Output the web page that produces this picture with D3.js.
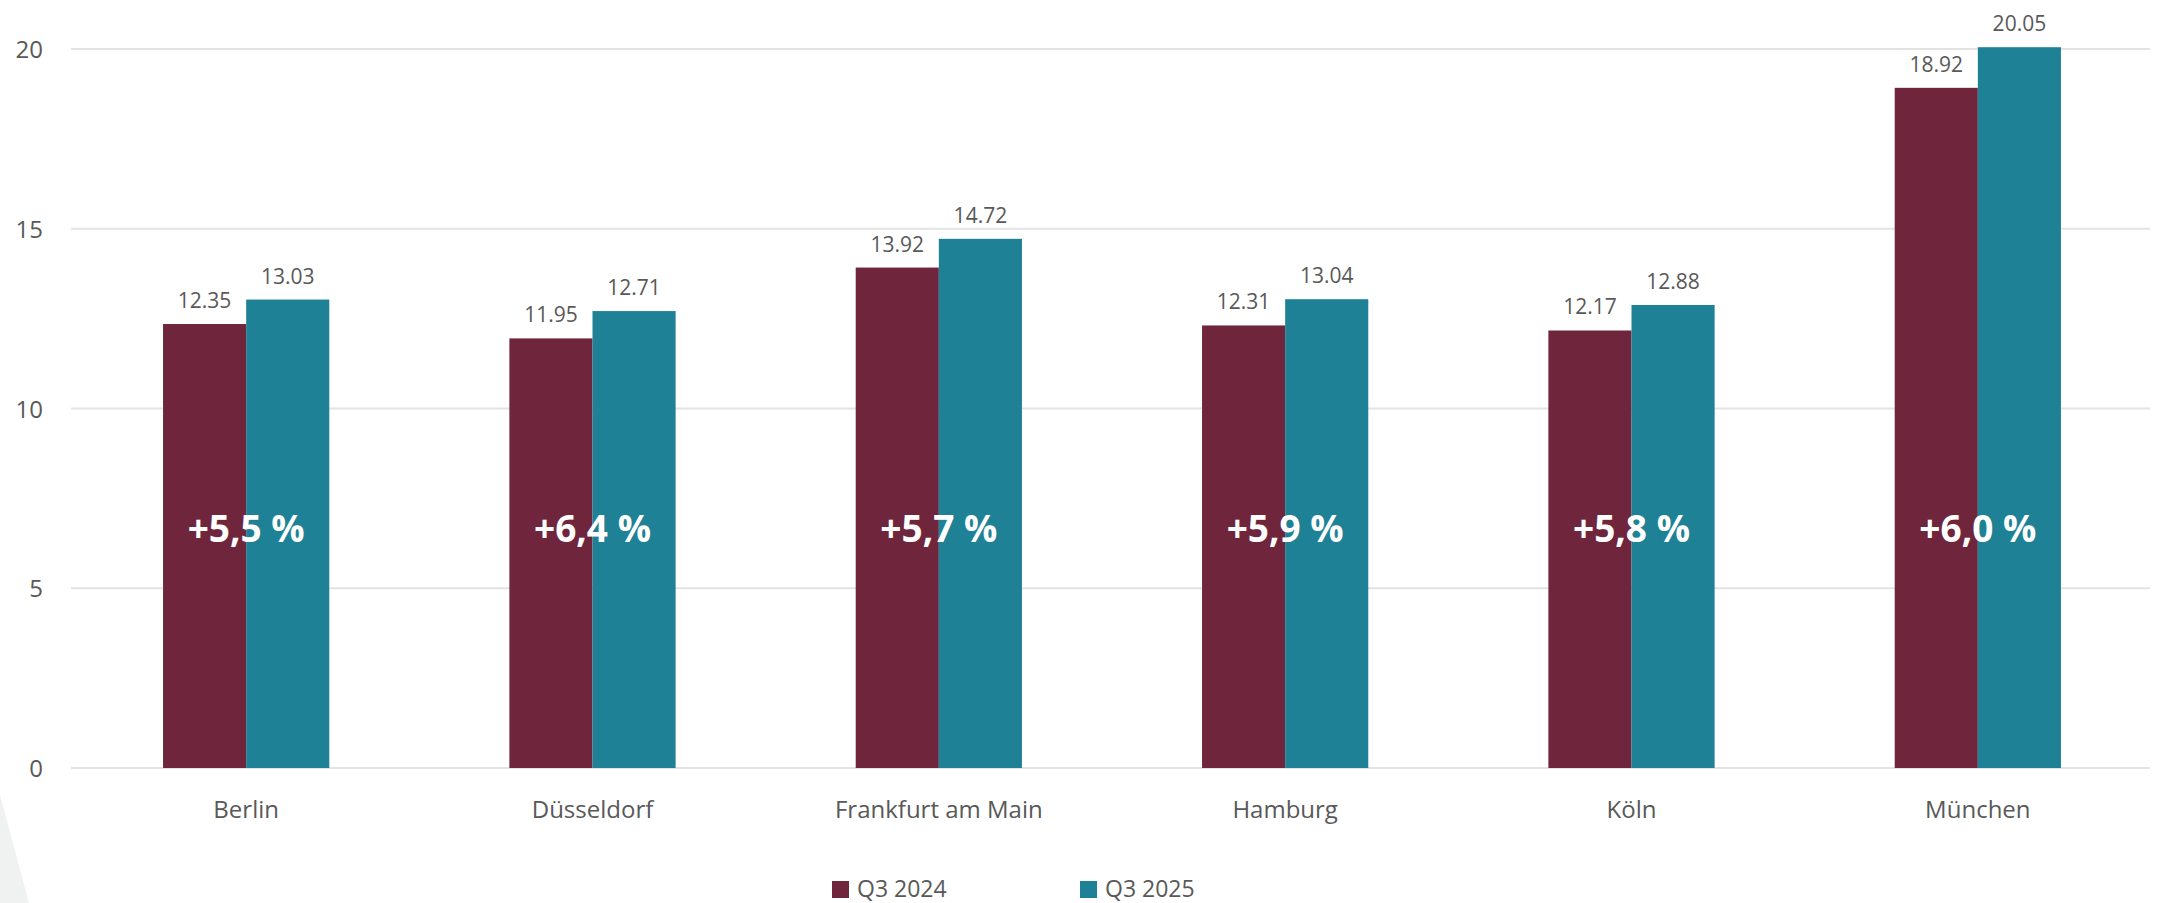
<!DOCTYPE html>
<html><head><meta charset="utf-8">
<script src="https://cdn.jsdelivr.net/npm/d3@7"></script>
<style>
html,body{margin:0;padding:0;background:#fff;}
svg{display:block;font-family:"Open Sans",sans-serif;}
</style></head>
<body>
<svg id="chart" width="2163" height="903"></svg>
<script>
const categories = ["Berlin","Düsseldorf","Frankfurt am Main","Hamburg","Köln","München"];
const seriesNames = ["Q3 2024","Q3 2025"];
const q3_2024 = [12.35, 11.95, 13.92, 12.31, 12.17, 18.92];
const q3_2025 = [13.03, 12.71, 14.72, 13.04, 12.88, 20.05];
const changes = ["+5,5 %","+6,4 %","+5,7 %","+5,9 %","+5,8 %","+6,0 %"];
const yTicks = [0,5,10,15,20];
const colors = ["#6f263c","#1e8195"];

const svg = d3.select("#chart");

// decorative background shape
svg.append("path").attr("d","M0,795 L29,903 L0,903 Z").attr("fill","#f0f2f2");

const y = d3.scaleLinear().domain([0,20]).range([768,49]);
const x0 = d3.scaleBand().domain(categories).range([73,2151]).paddingInner(0.52).paddingOuter(0.26);
const x1 = d3.scaleBand().domain(seriesNames).range([0,x0.bandwidth()]);

// gridlines
svg.append("g").selectAll("line").data(yTicks).join("line")
  .attr("x1",71).attr("x2",2150)
  .attr("y1",d=>y(d)).attr("y2",d=>y(d))
  .attr("stroke","#e3e3e3").attr("stroke-width",2);

// y tick labels
svg.append("g").selectAll("text").data(yTicks).join("text")
  .attr("x",43).attr("y",d=>y(d)+9)
  .attr("text-anchor","end").attr("font-size",24).attr("fill","#595959")
  .text(d=>d);

const data = categories.map((c,i)=>({cat:c, vals:[q3_2024[i], q3_2025[i]], change:changes[i]}));

const groups = svg.append("g").selectAll("g").data(data).join("g")
  .attr("transform",d=>`translate(${x0(d.cat)},0)`);

groups.selectAll("rect").data(d=>d.vals.map((v,j)=>({v,s:seriesNames[j],j}))).join("rect")
  .attr("x",d=>x1(d.s)).attr("width",x1.bandwidth())
  .attr("y",d=>y(d.v)).attr("height",d=>y(0)-y(d.v))
  .attr("fill",d=>colors[d.j]);

groups.selectAll("text.val").data(d=>d.vals.map((v,j)=>({v,s:seriesNames[j]}))).join("text")
  .attr("class","val")
  .attr("x",d=>x1(d.s)+x1.bandwidth()/2).attr("y",d=>y(d.v)-16)
  .attr("text-anchor","middle").attr("font-size",21).attr("fill","#595959")
  .text(d=>d.v.toFixed(2));

groups.append("text")
  .attr("x",x0.bandwidth()/2).attr("y",542)
  .attr("text-anchor","middle").attr("font-size",37).attr("font-weight","bold").attr("fill","#ffffff")
  .text(d=>d.change);

// category labels
svg.append("g").selectAll("text").data(categories).join("text")
  .attr("x",d=>x0(d)+x0.bandwidth()/2).attr("y",818)
  .attr("text-anchor","middle").attr("font-size",24).attr("fill","#595959")
  .text(d=>d);

// legend
const legendX = [832,1080];
const lg = svg.append("g").selectAll("g").data(seriesNames).join("g")
  .attr("transform",(d,i)=>`translate(${legendX[i]},0)`);
lg.append("rect").attr("x",0).attr("y",881).attr("width",17).attr("height",17).attr("fill",(d,i)=>colors[i]);
lg.append("text").attr("x",25).attr("y",897).attr("font-size",23).attr("fill","#595959").text(d=>d);
</script>
</body></html>
